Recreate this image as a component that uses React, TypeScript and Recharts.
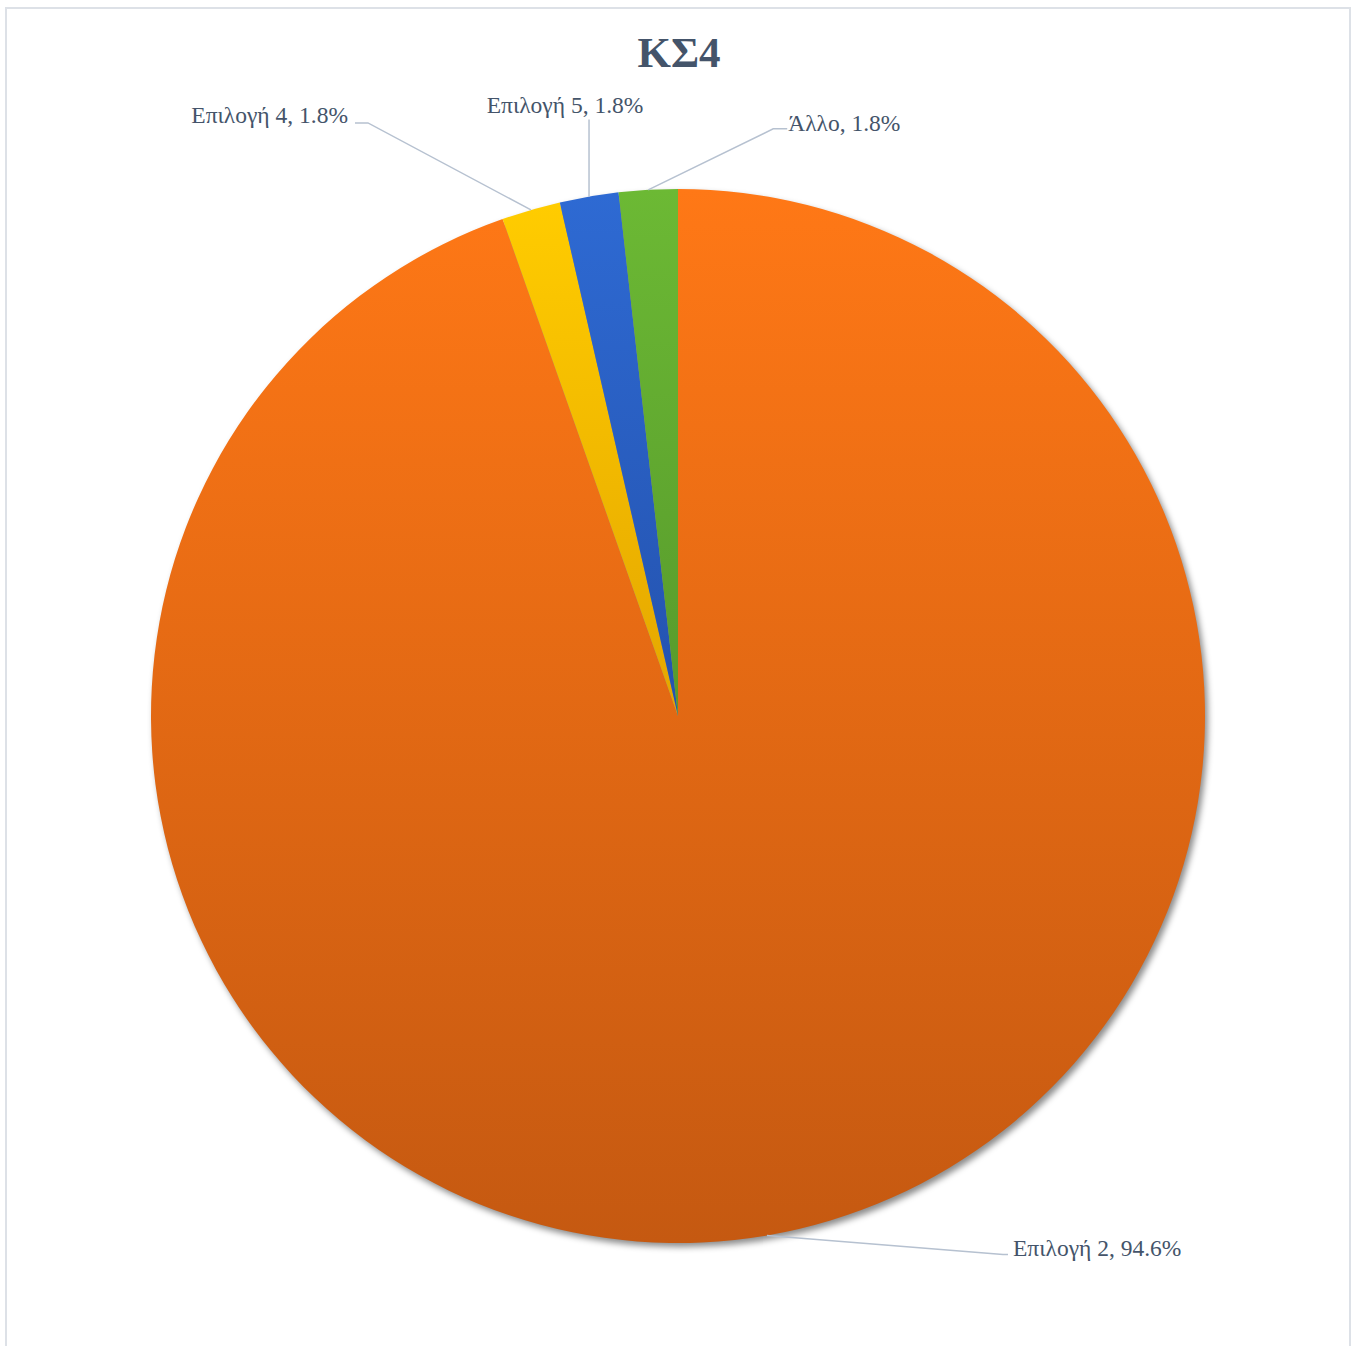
import React from 'react';
import { PieChart, Pie, Cell } from 'recharts';

const categories = ['Επιλογή 2', 'Επιλογή 4', 'Επιλογή 5', 'Άλλο'];
const values = [94.6, 1.8, 1.8, 1.8];
const title = 'ΚΣ4';

const topColors = ['#FF7816', '#FFCC00', '#2E6AD3', '#6CB934'];
const bottomColors = ['#C55911', '#E4A600', '#2452AE', '#579A2C'];

// label leader layout: offsets from the slice's outer-edge midpoint
const labelLayout = [
  { elbow: [236, 19], end: [241, 19], text: [246, 21], anchor: 'start' },
  { elbow: [-163, -87], end: [-176, -87], text: [-183, -87], anchor: 'end' },
  { elbow: [0, -77], end: [0, -77], text: [-24, -84], anchor: 'middle' },
  { elbow: [125, -61], end: [139, -61], text: [140, -59], anchor: 'start' },
];

const data = categories.map((name, i) => ({ name, value: values[i] }));
const total = values.reduce((a, b) => a + b, 0);
const shadowData = [{ name: 'shadow', value: total }];

const W = 1358;
const H = 1346;
const CX = 678;
const CY = 716;
const R = 527;
const RADIAN = Math.PI / 180;

const renderLabel = (props: any) => {
  const { cx, cy, midAngle, outerRadius, index, name, value } = props;
  const sx = cx + outerRadius * Math.cos(-midAngle * RADIAN);
  const sy = cy + outerRadius * Math.sin(-midAngle * RADIAN);
  const L = labelLayout[index];
  const pts = [
    [sx, sy],
    [sx + L.elbow[0], sy + L.elbow[1]],
    [sx + L.end[0], sy + L.end[1]],
  ];
  return (
    <g key={`lbl-${index}`}>
      <polyline
        points={pts.map((p) => p.join(',')).join(' ')}
        fill="none"
        stroke="#B6C1D0"
        strokeWidth={1.5}
      />
      <text
        x={sx + L.text[0]}
        y={sy + L.text[1]}
        textAnchor={L.anchor as any}
        fill="#44546A"
        fontFamily="'Liberation Serif', 'DejaVu Serif', serif"
        fontSize={23.5}
      >
        {`${name}, ${Number(value).toFixed(1)}%`}
      </text>
    </g>
  );
};

export default function App() {
  return (
    <div
      style={{
        position: 'absolute',
        left: 0,
        top: 0,
        width: W,
        height: H,
        overflow: 'hidden',
        background: '#fff',
      }}
    >
      <div
        style={{
          position: 'absolute',
          left: 5,
          top: 7,
          width: 1346,
          height: 1360,
          border: '2px solid #DDE1E7',
          boxSizing: 'border-box',
        }}
      />
      <div
        style={{
          position: 'absolute',
          left: 0,
          top: 31,
          width: W,
          textAlign: 'center',
          fontFamily: "'Liberation Serif', serif",
          fontWeight: 'bold',
          fontSize: 43,
          lineHeight: '44px',
          color: '#44546A',
        }}
      >
        {title}
      </div>
      <div style={{ position: 'absolute', left: 0, top: 0 }}>
        <PieChart width={W} height={H} margin={{ top: 0, right: 0, bottom: 0, left: 0 }}>
          <defs>
            <filter id="pieShadow" x="-10%" y="-10%" width="120%" height="120%">
              <feGaussianBlur stdDeviation="3" />
            </filter>
            {topColors.map((c, i) => (
              <linearGradient key={i} id={`grad${i}`} x1="0" y1="0" x2="0" y2="1">
                <stop offset="0%" stopColor={c} />
                <stop offset="100%" stopColor={bottomColors[i]} />
              </linearGradient>
            ))}
          </defs>
          <Pie
            data={shadowData}
            dataKey="value"
            cx={CX + 3}
            cy={CY + 4}
            outerRadius={R}
            startAngle={90}
            endAngle={-270}
            stroke="none"
            isAnimationActive={false}
            label={false}
            labelLine={false}
          >
            <Cell fill="rgba(0,0,0,0.45)" filter="url(#pieShadow)" />
          </Pie>
          <Pie
            data={data}
            dataKey="value"
            nameKey="name"
            cx={CX}
            cy={CY}
            outerRadius={R}
            startAngle={90}
            endAngle={-270}
            stroke="none"
            isAnimationActive={false}
            labelLine={false}
            label={renderLabel}
          >
            {data.map((d, i) => (
              <Cell key={d.name} fill={`url(#grad${i})`} />
            ))}
          </Pie>
        </PieChart>
      </div>
    </div>
  );
}
